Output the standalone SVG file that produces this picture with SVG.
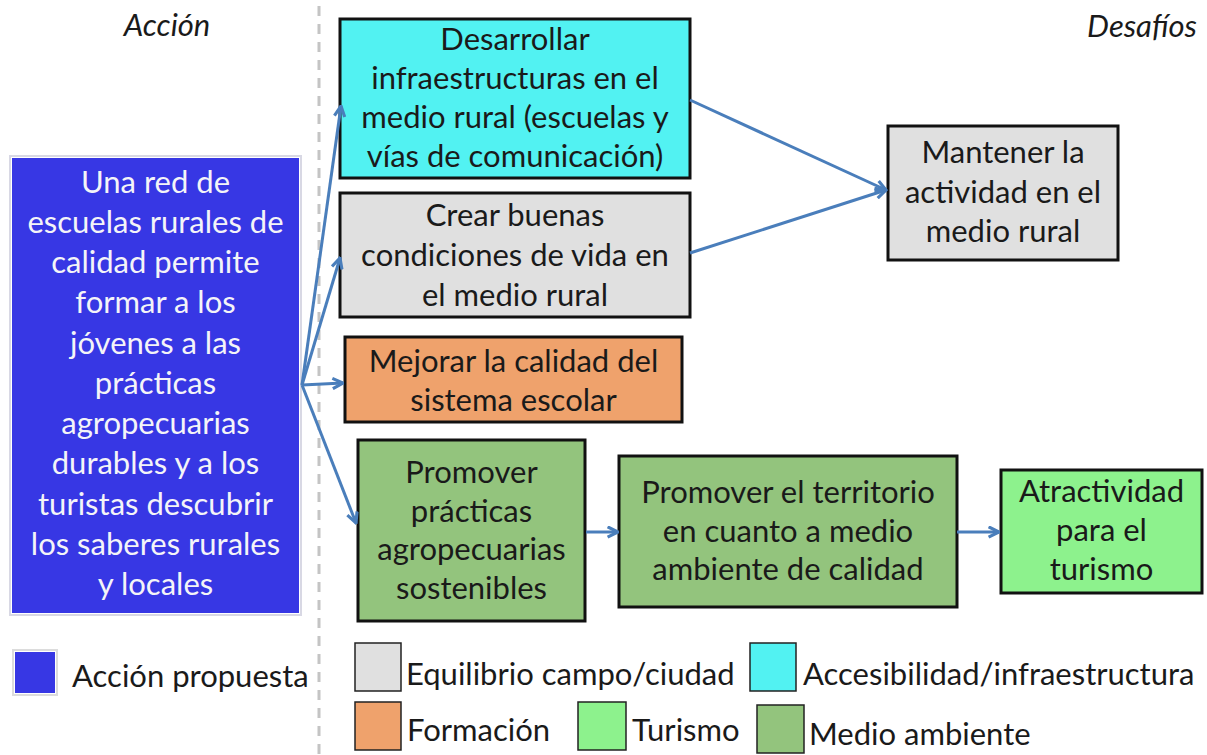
<svg xmlns="http://www.w3.org/2000/svg" width="1207" height="755" viewBox="0 0 1207 755">
  <style>
    text { font-family: Lato, "Liberation Sans", sans-serif; font-size: 31px; fill: #1a1a1a; }
    .c { text-anchor: middle; }
    .w { fill: #f4f4f8; }
    .hd { font-style: italic; }
    .box { stroke: #111; stroke-width: 3; }
    .con { stroke: #4A7EBB; stroke-width: 3; fill: none; marker-end: url(#arr); }
    .lg { stroke: #222; stroke-width: 1.5; }
  </style>
  <defs>
    <marker id="arr" viewBox="0 0 10 10" refX="9" refY="5" markerWidth="13" markerHeight="13" markerUnits="userSpaceOnUse" orient="auto">
      <path d="M1,1 L9,5 L1,9" fill="none" stroke="#4A7EBB" stroke-width="2.4" stroke-linejoin="miter"/>
    </marker>
  </defs>
  <rect width="1207" height="755" fill="#ffffff"/>

  <!-- headings -->
  <text class="c hd" x="167" y="36">Acción</text>
  <text class="hd" x="1197" y="37" text-anchor="end">Desafíos</text>

  <!-- separator -->
  <line x1="319" y1="6" x2="319" y2="755" stroke="#c4c4c4" stroke-width="3" stroke-dasharray="10 8"/>

  <!-- action node -->
  <g id="accion">
    <rect x="10" y="156" width="291" height="459" fill="none" stroke="#d8d8e4" stroke-width="2"/>
    <rect x="12" y="158" width="287" height="455" fill="#3737E4"/>
    <text class="c w" x="155.5" y="193">Una red de</text>
    <text class="c w" x="155.5" y="233">escuelas rurales de</text>
    <text class="c w" x="155.5" y="273">calidad permite</text>
    <text class="c w" x="155.5" y="313">formar a los</text>
    <text class="c w" x="155.5" y="354">jóvenes a las</text>
    <text class="c w" x="155.5" y="394">prácticas</text>
    <text class="c w" x="155.5" y="434">agropecuarias</text>
    <text class="c w" x="155.5" y="474">durables y a los</text>
    <text class="c w" x="155.5" y="515">turistas descubrir</text>
    <text class="c w" x="155.5" y="555">los saberes rurales</text>
    <text class="c w" x="155.5" y="595">y locales</text>
  </g>

  <g id="infraestructuras">
    <rect class="box" x="340" y="19" width="350" height="159" fill="#52F2F2"/>
    <text class="c" x="515" y="50">Desarrollar</text>
    <text class="c" x="515" y="89">infraestructuras en el</text>
    <text class="c" x="515" y="128">medio rural (escuelas y</text>
    <text class="c" x="515" y="167">vías de comunicación)</text>
  </g>

  <g id="condiciones">
    <rect class="box" x="340" y="193" width="350" height="124" fill="#E0E0E0"/>
    <text class="c" x="515" y="226">Crear buenas</text>
    <text class="c" x="515" y="266">condiciones de vida en</text>
    <text class="c" x="515" y="306">el medio rural</text>
  </g>

  <g id="calidad-escolar">
    <rect class="box" x="345" y="337" width="337" height="85" fill="#EFA26C"/>
    <text class="c" x="513.5" y="372">Mejorar la calidad del</text>
    <text class="c" x="513.5" y="411">sistema escolar</text>
  </g>

  <g id="mantener">
    <rect class="box" x="888" y="126" width="230" height="134" fill="#E0E0E0"/>
    <text class="c" x="1003" y="163">Mantener la</text>
    <text class="c" x="1003" y="203">actividad en el</text>
    <text class="c" x="1003" y="242">medio rural</text>
  </g>

  <g id="practicas">
    <rect class="box" x="358" y="440" width="227" height="181" fill="#93C47D"/>
    <text class="c" x="471.5" y="483">Promover</text>
    <text class="c" x="471.5" y="522">prácticas</text>
    <text class="c" x="471.5" y="560">agropecuarias</text>
    <text class="c" x="471.5" y="599">sostenibles</text>
  </g>

  <g id="territorio">
    <rect class="box" x="619" y="456" width="338" height="151" fill="#93C47D"/>
    <text class="c" x="788" y="503">Promover el territorio</text>
    <text class="c" x="788" y="542">en cuanto a medio</text>
    <text class="c" x="788" y="580">ambiente de calidad</text>
  </g>

  <g id="turismo">
    <rect class="box" x="1001" y="470" width="201" height="123" fill="#8DF28D"/>
    <text class="c" x="1101.5" y="502">Atractividad</text>
    <text class="c" x="1101.5" y="541">para el</text>
    <text class="c" x="1101.5" y="580">turismo</text>
  </g>

  <g id="connectors">
    <line class="con" x1="302" y1="385" x2="341" y2="106"/>
    <line class="con" x1="302" y1="385" x2="340" y2="258"/>
    <line class="con" x1="302" y1="385" x2="343" y2="383"/>
    <line class="con" x1="302" y1="385" x2="356" y2="523"/>
    <line class="con" x1="690" y1="100" x2="886" y2="190"/>
    <line class="con" x1="690" y1="253" x2="886" y2="190"/>
    <line class="con" x1="586" y1="532" x2="618" y2="532"/>
    <line class="con" x1="957" y1="532" x2="999" y2="532"/>
  </g>

  <g id="legend">
    <rect x="13" y="650" width="44" height="45" fill="none" stroke="#dcdcdc" stroke-width="2"/>
    <rect x="15" y="652" width="40" height="41" fill="#3737E4"/>
    <text x="72" y="687">Acción propuesta</text>

    <rect class="lg" x="355" y="643" width="46" height="48" fill="#E0E0E0"/>
    <text x="406" y="685">Equilibrio campo/ciudad</text>
    <rect class="lg" x="750" y="643" width="46" height="48" fill="#52F2F2"/>
    <text x="803" y="685">Accesibilidad/infraestructura</text>

    <rect class="lg" x="355" y="702" width="46" height="48" fill="#EFA26C"/>
    <text x="407" y="741">Formación</text>
    <rect class="lg" x="578" y="702" width="48" height="48" fill="#8DF28D"/>
    <text x="632" y="741">Turismo</text>
    <rect class="lg" x="757" y="705" width="47" height="48" fill="#93C47D"/>
    <text x="809" y="745">Medio ambiente</text>
  </g>
</svg>
